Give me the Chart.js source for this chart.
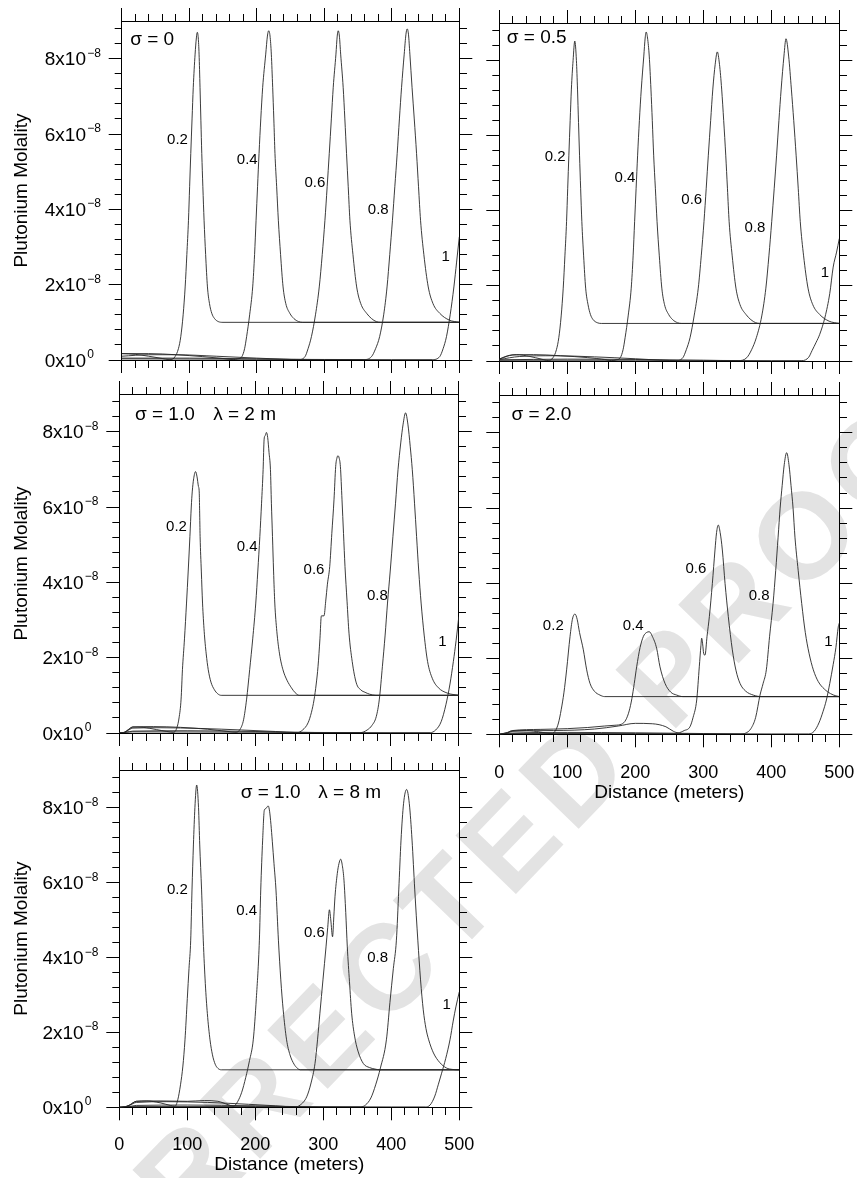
<!DOCTYPE html>
<html>
<head>
<meta charset="utf-8">
<script src="https://cdn.jsdelivr.net/npm/chart.js@4.4.1/dist/chart.umd.min.js"></script>
<style>
  html, body { margin: 0; padding: 0; background: #fff; }
  #page { position: relative; width: 857px; height: 1178px; overflow: hidden; background: #fff; }
  #stamp {
    position: absolute; left: 495px; top: 855px;
    transform: translate(-50%, -50%) rotate(-46deg);
    font: bold 122px "Liberation Sans", Arial, sans-serif;
    letter-spacing: 9px; color: #e3e3e3; white-space: nowrap;
  }
  canvas { position: absolute; }
</style>
</head>
<body>
<div id="page">
  <div id="stamp">CORRECTED PROOF</div>
</div>
<script>
// Plutonium molality profiles along the flow path, in units of 1e-8 mol/kg,
// given as [distance (m), molality] pairs for the times 0.2, 0.4, 0.6, 0.8 and 1.

// ---- sigma = 0 ----
const sigma0_t02 = [[0,0.17],[20,0.15],[40,0.1],[60,0.04],[70,0.01],[76,0.03],[79,0.09],[84,0.3],[87.5,0.62],[91,1.2],[94,1.94],[96.5,2.8],[98.9,3.71],[100.6,4.6],[102.3,5.48],[104.2,6.4],[106,7.24],[108.7,8.12],[110.6,8.55],[112,8.7],[113.4,8.55],[114.6,8.12],[116,7.24],[117.3,6.35],[118.6,5.48],[120.2,4.6],[122,3.71],[124.3,2.8],[127,1.94],[130,1.5],[133.4,1.24],[137.5,1.1],[143,1.02],[150,1.0],[500,1.0]];
const sigma0_t04 = [[0,0.17],[40,0.17],[80,0.14],[120,0.09],[150,0.04],[165,0.01],[172,0.03],[178,0.09],[182,0.3],[185,0.62],[189.5,1.2],[194,1.94],[196.8,2.8],[199,3.71],[201.2,4.6],[203.4,5.48],[206,6.4],[208.8,7.24],[213.3,8.12],[215.8,8.6],[217.7,8.74],[219.7,8.6],[221.6,8.12],[223.6,7.24],[225.3,6.4],[227,5.48],[229.5,4.6],[232,3.71],[235.3,2.8],[239,1.94],[243,1.5],[249,1.24],[255,1.1],[262,1.02],[268,1.0],[500,1.0]];
const sigma0_t06 = [[0,0.1],[40,0.14],[80,0.14],[140,0.1],[200,0.05],[240,0.02],[262,0.01],[271.5,0.09],[276,0.3],[281,0.62],[287,1.2],[292.6,1.94],[297,2.8],[301,3.71],[304.3,4.6],[307.4,5.48],[310.5,6.4],[313.3,7.24],[317.3,8.12],[319.2,8.6],[320.7,8.74],[322.4,8.6],[324.3,8.12],[328,7.24],[330.5,6.4],[333,5.48],[335.5,4.6],[338,3.71],[342.5,2.8],[348,1.94],[354,1.5],[362.7,1.24],[370,1.1],[377,1.02],[383,1.0],[500,1.0]];
const sigma0_t08 = [[0,0.05],[100,0.05],[200,0.03],[300,0.01],[358,0.01],[370,0.09],[376,0.3],[382,0.62],[388,1.2],[393,1.94],[397,2.8],[401,3.71],[404.5,4.6],[408,5.48],[411.3,6.4],[414.5,7.24],[418.4,8.12],[421,8.65],[422.8,8.79],[424.7,8.65],[426.8,8.12],[430,7.24],[433.3,6.4],[436.7,5.48],[439.6,4.6],[442.6,3.71],[447.5,2.8],[454,1.94],[461,1.5],[471,1.24],[485,1.06],[500,1.0]];
const sigma0_t10 = [[0,0.03],[200,0.02],[400,0.01],[460,0.01],[471,0.09],[476,0.3],[481,0.62],[486.5,1.2],[492,1.94],[496,2.6],[500,3.27]];

// ---- sigma = 0.5 ----
const sigma05_t02 = [[0,0.05],[12,0.14],[25,0.17],[45,0.12],[62,0.05],[72,0.01],[79,0.09],[84,0.3],[87.5,0.62],[91,1.2],[94,1.94],[96.5,2.8],[98.9,3.71],[100.6,4.6],[102.3,5.48],[104.2,6.4],[106,7.24],[108.5,8.0],[111,8.52],[113.4,8.0],[115,7.24],[116.5,6.35],[118,5.48],[119.6,4.6],[121.4,3.71],[124,2.8],[127,1.94],[130.5,1.5],[134,1.24],[138,1.1],[144,1.02],[150,1.0],[500,1.0]];
const sigma05_t04 = [[0,0.05],[20,0.16],[50,0.17],[90,0.14],[130,0.09],[155,0.04],[165,0.01],[172,0.03],[178,0.09],[182,0.3],[185,0.62],[189.5,1.2],[194,1.94],[196.8,2.8],[199,3.71],[201.2,4.6],[203.4,5.48],[206,6.4],[208.8,7.24],[212.5,8.12],[214.5,8.6],[216,8.76],[218,8.6],[220.5,8.12],[223,7.24],[225,6.4],[227,5.48],[229.5,4.6],[232,3.71],[235.3,2.8],[239,1.94],[243,1.5],[249,1.24],[255,1.1],[262,1.02],[268,1.0],[500,1.0]];
const sigma05_t06 = [[0,0.04],[30,0.12],[80,0.14],[140,0.11],[200,0.06],[240,0.02],[260,0.01],[270,0.09],[275,0.3],[280.5,0.62],[286.5,1.2],[292.6,1.94],[297,2.8],[301,3.71],[304.3,4.6],[307.4,5.48],[310.8,6.4],[314,7.24],[317.5,7.9],[320.6,8.23],[323.8,7.9],[327,7.24],[330,6.4],[333,5.48],[335.5,4.6],[338,3.71],[342.5,2.8],[348,1.94],[354,1.5],[362.7,1.24],[370,1.1],[377,1.02],[383,1.0],[500,1.0]];
const sigma05_t08 = [[0,0.03],[100,0.05],[200,0.04],[300,0.02],[352,0.01],[364,0.09],[371,0.3],[378,0.62],[386,1.2],[392,1.94],[396.5,2.8],[400.6,3.71],[404.3,4.6],[407.8,5.48],[411.2,6.4],[414.5,7.24],[418.6,8.12],[421.6,8.58],[425.5,8.12],[429.5,7.24],[433,6.4],[436.5,5.48],[439.6,4.6],[442.6,3.71],[447.5,2.8],[454,1.94],[461,1.5],[471,1.24],[485,1.06],[500,1.0]];
const sigma05_t10 = [[0,0.02],[200,0.02],[400,0.01],[445,0.01],[455,0.1],[460,0.28],[466,0.5],[471,0.7],[479,1.17],[486,1.8],[491,2.5],[496,2.9],[500,3.26]];

// ---- sigma = 1.0, lambda = 2 m ----
const sigma10a_t02 = [[0,0],[8,0.02],[14,0.1],[20,0.16],[35,0.15],[55,0.09],[70,0.04],[80,0.02],[84,0.1],[88,0.4],[91,0.9],[93,1.68],[96,2.5],[99,3.45],[101.5,4.3],[104,5.22],[106,6.0],[107.4,6.4],[109.5,6.75],[112.3,6.94],[114.5,6.8],[116.5,6.55],[117.7,6.4],[118.3,5.9],[119,5.22],[120.8,4.3],[122.6,3.45],[125,2.7],[128,2.1],[131,1.68],[135,1.35],[140,1.15],[145,1.04],[150,1.0],[500,1.0]];
const sigma10a_t04 = [[0,0],[8,0.02],[14,0.1],[20,0.16],[50,0.17],[90,0.15],[130,0.1],[160,0.04],[172,0.02],[178,0.1],[183,0.35],[187.5,0.9],[192,1.68],[196.5,2.5],[201,3.45],[204,4.3],[207,5.22],[209.5,6.1],[211.8,6.99],[213.3,7.8],[215,7.9],[216.7,7.98],[218.5,7.85],[220.5,7.45],[222.6,6.99],[224,6.1],[225.6,5.22],[227.2,4.3],[229,3.45],[232,2.7],[236,2.1],[241,1.68],[247,1.4],[253.5,1.2],[259,1.07],[265,1.0],[500,1.0]];
const sigma10a_t06 = [[0,0],[8,0.02],[14,0.08],[20,0.13],[60,0.14],[120,0.12],[180,0.08],[230,0.04],[262,0.01],[270,0.08],[278,0.27],[283,0.55],[286.8,0.88],[290,1.3],[292.7,1.77],[295.5,2.5],[297.6,3.11],[301.5,3.11],[304,3.5],[306.5,3.95],[309.9,4.42],[313,5.3],[316.2,6.19],[318.7,7.08],[320.5,7.3],[322,7.36],[323.8,7.3],[325.6,7.08],[328,6.19],[330.2,5.3],[332.4,4.42],[335.4,3.5],[338.3,2.65],[343,1.9],[349,1.33],[356,1.14],[362,1.08],[368.7,1.03],[378,1.0],[500,1.0]];
const sigma10a_t08 = [[0,0],[10,0.02],[20,0.05],[100,0.06],[200,0.04],[300,0.01],[355,0.01],[365,0.08],[372,0.2],[378.5,0.44],[383,0.9],[387.5,1.77],[391.5,2.6],[395,3.45],[399,4.3],[403,5.22],[406.8,6.1],[410.5,6.99],[414.5,7.7],[418,8.2],[421.6,8.5],[425,8.2],[428.5,7.6],[431.5,6.99],[434.8,6.1],[437.8,5.22],[441,4.3],[444.5,3.45],[449,2.6],[454,1.9],[461,1.45],[470,1.2],[483,1.06],[500,1.0]];
const sigma10a_t10 = [[0,0],[20,0.03],[200,0.02],[400,0.01],[458,0.01],[466,0.08],[474,0.3],[481,0.75],[487,1.3],[492,1.9],[496,2.45],[500,3.09]];

// ---- sigma = 2.0 ----
const sigma20_t02 = [[0,0],[10,0.02],[18,0.09],[40,0.1],[60,0.06],[75,0.02],[82,0.08],[87,0.3],[91,0.65],[95,1.1],[99,1.71],[104,2.59],[107.5,3.05],[111.3,3.19],[114.5,3.05],[118,2.7],[123.6,2.24],[128.5,1.71],[133.4,1.35],[140,1.14],[148,1.04],[155,1.0],[500,1.0]];
const sigma20_t04 = [[0,0],[12,0.05],[20,0.1],[60,0.13],[100,0.15],[130,0.18],[155,0.22],[170,0.24],[180,0.27],[186,0.38],[191,0.62],[195,0.95],[198.5,1.35],[202,1.79],[207,2.3],[212,2.6],[216.5,2.7],[220.6,2.72],[225,2.6],[231.4,2.28],[236.3,1.79],[243.7,1.35],[252,1.12],[260.9,1.04],[270,1.0],[500,1.0]];
const sigma20_t06 = [[0,0],[12,0.04],[20,0.08],[80,0.1],[140,0.14],[175,0.22],[200,0.29],[225,0.28],[245,0.2],[256,0.08],[263,0.04],[272,0.1],[280.4,0.2],[285,0.45],[290.3,0.91],[294.1,1.79],[296.5,2.35],[297.6,2.55],[299,2.4],[300.5,2.15],[302.5,2.1],[305.5,2.6],[308.9,3.12],[313.3,4.0],[317.2,4.89],[319.5,5.35],[322,5.55],[324.8,5.35],[328,4.89],[332,4.0],[336.8,3.12],[342.7,2.24],[348,1.7],[354,1.35],[362,1.15],[373.5,1.04],[385,1.0],[500,1.0]];
const sigma20_t08 = [[0,0],[15,0.03],[100,0.05],[200,0.04],[300,0.02],[355,0.01],[362,0.03],[370,0.15],[377,0.45],[383.4,1.04],[388,1.35],[392.7,1.71],[397.5,2.6],[402.6,3.47],[406.5,4.35],[410,5.23],[413,6.0],[416,6.6],[419,7.15],[422.6,7.47],[426,7.15],[429,6.6],[432,6.0],[434.8,5.23],[439.5,4.35],[444.7,3.47],[450,2.7],[455.5,2.15],[461.8,1.71],[469,1.4],[478,1.2],[487,1.08],[495,1.02],[500,1.0]];
const sigma20_t10 = [[0,0],[20,0.02],[200,0.02],[400,0.01],[455,0.01],[463,0.08],[470,0.3],[476,0.6],[481,0.91],[486,1.35],[491,1.85],[495,2.3],[498.5,2.85],[500,2.95]];

// ---- sigma = 1.0, lambda = 8 m ----
const sigma10b_t02 = [[0,0],[8,0.01],[15,0.06],[25,0.16],[40,0.17],[60,0.12],[75,0.05],[82,0.03],[86,0.2],[90,0.6],[93.5,1.1],[96.6,1.8],[100,2.9],[102.5,3.7],[105,4.46],[106.9,5.8],[109,7.0],[111.2,8.0],[113.8,8.6],[116.5,8.0],[118.3,7.0],[121,5.8],[123.5,4.46],[126.5,3.3],[129.5,2.5],[133.4,1.8],[137,1.4],[141,1.15],[145,1.04],[150,1.0],[500,1.0]];
const sigma10b_t04 = [[0,0],[8,0.01],[15,0.06],[25,0.16],[60,0.17],[100,0.16],[125,0.18],[145,0.16],[160,0.07],[168,0.03],[174,0.15],[180,0.4],[186,0.8],[191.5,1.25],[197,1.8],[201.5,2.9],[206,4.46],[208,5.8],[210.8,7.13],[213.3,7.93],[215.5,7.97],[217.5,8.02],[219,8.04],[221,7.9],[223,7.55],[225,7.1],[227.5,6.5],[230.4,5.8],[234,4.46],[237.5,3.4],[241,2.6],[246,1.8],[251,1.4],[257,1.15],[262,1.04],[266,1.0],[500,1.0]];
const sigma10b_t06 = [[0,0],[8,0.01],[15,0.05],[25,0.13],[70,0.15],[130,0.13],[190,0.08],[230,0.04],[258,0.01],[266,0.06],[275.6,0.28],[282,0.65],[287.8,1.17],[291.5,1.8],[295,2.51],[299.5,3.4],[304,4.28],[306.5,4.8],[309,5.27],[311,5.0],[313.6,4.55],[315.5,5.1],[317.2,5.62],[320.6,6.24],[323,6.5],[325.5,6.62],[328,6.45],[330.4,6.06],[333,5.2],[335.3,4.28],[338.5,3.35],[341.7,2.51],[346,1.9],[351,1.5],[358.8,1.17],[368,1.06],[376,1.02],[383,1.0],[500,1.0]];
const sigma10b_t08 = [[0,0],[15,0.02],[25,0.05],[100,0.06],[200,0.04],[300,0.01],[355,0.01],[362,0.06],[370,0.25],[377,0.6],[384,1.05],[392.8,1.8],[398,2.8],[403,3.7],[407.5,4.46],[411,5.8],[414.3,7.13],[418,8.1],[422.6,8.48],[426.5,8.1],[430.5,7.13],[434.5,5.8],[439,4.46],[443,3.4],[447,2.6],[451,2.1],[455,1.8],[462,1.45],[471,1.2],[481,1.05],[490,1.01],[500,1.0]];
const sigma10b_t10 = [[0,0],[20,0.02],[200,0.02],[400,0.01],[450,0.01],[457,0.06],[464,0.3],[469,0.6],[474,0.91],[480,1.3],[486.3,1.8],[491,2.3],[495,2.68],[500,3.08]];

// Curve tags (time) and where each tag sits, in data coordinates
const timeTags = ['0.2', '0.4', '0.6', '0.8', '1'];
const sigma0_tags   = [[82.6,5.85],[186,5.32],[286,4.70],[380,3.99],[480,2.75]];
const sigma05_tags  = [[82,5.43],[184.9,4.87],[283,4.28],[376,3.55],[479,2.34]];
const sigma10a_tags = [[84.3,5.48],[188.2,4.95],[286.8,4.34],[380,3.65],[476,2.42]];
const sigma20_tags  = [[79.4,2.87],[197,2.87],[289,4.38],[382,3.67],[484,2.46]];
const sigma10b_tags = [[85.3,5.80],[187.3,5.25],[286.8,4.66],[380,3.98],[481.5,2.73]];

// Axis ticks
const distanceTicks = [0,20,40,60,80,100,120,140,160,180,200,220,240,260,280,300,320,340,360,380,400,420,440,460,480,500];
const distanceMajor = [0,100,200,300,400,500];
const distanceLabels = ['0','100','200','300','400','500'];
const molalityTicks = [0,0.4,0.8,1.2,1.6,2,2.4,2.8,3.2,3.6,4,4.4,4.8,5.2,5.6,6,6.4,6.8,7.2,7.6,8,8.4,8.8];
const molalityMajor = [0,2,4,6,8];
const molalityMantissa = ['0','2','4','6','8'];
const molalityExponent = ['0','\u22128','\u22128','\u22128','\u22128'];

const FONT = '"Liberation Sans", Arial, Helvetica, sans-serif';
Chart.defaults.font.family = FONT;
Chart.defaults.color = '#000';

const isMajorDistance = v => distanceMajor.some(m => Math.abs(m - v) < 1e-6);
const isMajorMolality = v => molalityMajor.some(m => Math.abs(m - v) < 1e-6);

// Panel frames (pixel boxes of each plotting area)
const panels = [
  { curves: [sigma0_t02, sigma0_t04, sigma0_t06, sigma0_t08, sigma0_t10], tags: sigma0_tags,
    captions: [['\u03c3 = 0', 12.6, 8.5]],
    col: 0, area: { left: 121.7, top: 21, right: 459.3, bottom: 360 }, yLabels: true, xLabels: false },
  { curves: [sigma05_t02, sigma05_t04, sigma05_t06, sigma05_t08, sigma05_t10], tags: sigma05_tags,
    captions: [['\u03c3 = 0.5', 11, 8.61]],
    col: 1, area: { left: 499.3, top: 22.7, right: 839.3, bottom: 360.7 }, yLabels: false, xLabels: false },
  { curves: [sigma10a_t02, sigma10a_t04, sigma10a_t06, sigma10a_t08, sigma10a_t10], tags: sigma10a_tags,
    captions: [['\u03c3 = 1.0', 23.1, 8.45], ['\u03bb = 2 m', 138.2, 8.45]],
    col: 0, area: { left: 119.3, top: 394.3, right: 458.8, bottom: 733.3 }, yLabels: true, xLabels: false },
  { curves: [sigma20_t02, sigma20_t04, sigma20_t06, sigma20_t08, sigma20_t10], tags: sigma20_tags,
    captions: [['\u03c3 = 2.0', 18, 8.47]],
    col: 1, area: { left: 499.3, top: 395, right: 839.3, bottom: 734.3 }, yLabels: false, xLabels: true,
    canvasBottom: 814.3, tickPad: 15, titlePad: 9.6 },
  { curves: [sigma10b_t02, sigma10b_t04, sigma10b_t06, sigma10b_t08, sigma10b_t10], tags: sigma10b_tags,
    captions: [['\u03c3 = 1.0', 178.5, 8.39], ['\u03bb = 8 m', 292.6, 8.39]],
    col: 0, area: { left: 119.3, top: 770, right: 459.3, bottom: 1107.3 }, yLabels: true, xLabels: true,
    canvasBottom: 1178, tickPad: 14, titlePad: 1.6 }
];

// Draws the "Nx10^e" molality labels, the time tags and the panel captions
const annotate = {
  id: 'annotate',
  afterDatasetsDraw(chart, args, opts) {
    const { ctx, chartArea } = chart;
    const x = chart.scales.x, y = chart.scales.y;
    ctx.save();
    ctx.fillStyle = '#000';
    ctx.textBaseline = 'middle';
    ctx.font = '15px ' + FONT;
    ctx.textAlign = 'center';
    opts.tags.forEach(([vx, vy], i) => {
      ctx.fillText(timeTags[i], x.getPixelForValue(vx), y.getPixelForValue(vy));
    });
    ctx.font = '19px ' + FONT;
    ctx.textAlign = 'left';
    opts.captions.forEach(([text, vx, vy]) => {
      ctx.fillText(text, x.getPixelForValue(vx), y.getPixelForValue(vy));
    });
    if (opts.yLabels) {
      molalityMajor.forEach((v, i) => {
        const py = y.getPixelForValue(v);
        const xr = chartArea.left - 35.7;
        ctx.font = '19px ' + FONT;
        ctx.textAlign = 'right';
        ctx.fillText(molalityMantissa[i] + 'x10', xr, py + 1.5);
        ctx.font = '12px ' + FONT;
        ctx.textAlign = 'left';
        ctx.fillText(molalityExponent[i], xr + 1.2, py - 5.2);
      });
    }
    ctx.restore();
  }
};

function tickGrid(isMajor, fromOutside) {
  return {
    display: true,
    drawOnChartArea: false,
    drawTicks: true,
    tickLength: 13,
    tickColor: '#000',
    tickWidth: 1,
    tickBorderDash: c => (c.tick && isMajor(c.tick.value)) ? [] : [7, 100],
    tickBorderDashOffset: fromOutside ? -6 : 0
  };
}
const frameBorder = { display: true, color: '#000', width: 1 };

const page = document.getElementById('page');

panels.forEach(p => {
  const colLeft = p.col === 0 ? 0 : 440;
  const W = p.col === 0 ? 495 : 435;
  const top = Math.max(0, p.area.top - 22);
  const bottom = p.canvasBottom || (p.area.bottom + 20);
  const H = Math.round(bottom - top);
  const Lw = p.area.left - colLeft;
  const Rw = colLeft + W - p.area.right;
  const Th = p.area.top - top;
  const Bh = top + H - p.area.bottom;

  const canvas = document.createElement('canvas');
  canvas.width = W; canvas.height = H;
  canvas.style.left = colLeft + 'px';
  canvas.style.top = top + 'px';
  canvas.style.width = W + 'px';
  canvas.style.height = H + 'px';
  page.appendChild(canvas);

  const datasets = p.curves.map((pts, i) => ({
    label: timeTags[i],
    data: pts.map(([d, m]) => ({ x: d, y: m })),
    borderColor: '#262626',
    borderWidth: 0.9,
    pointRadius: 0,
    fill: false,
    cubicInterpolationMode: 'monotone'
  }));

  const distanceTicksBuilder = s => { s.ticks = distanceTicks.map(v => ({ value: v })); };
  const molalityTicksBuilder = s => { s.ticks = molalityTicks.map(v => ({ value: v })); };

  new Chart(canvas, {
    type: 'line',
    data: { datasets },
    options: {
      responsive: false,
      animation: false,
      devicePixelRatio: 1,
      layout: { padding: 0 },
      plugins: {
        legend: { display: false },
        tooltip: { enabled: false },
        annotate: { tags: p.tags, captions: p.captions, yLabels: p.yLabels }
      },
      scales: {
        x: {
          type: 'linear', position: 'bottom', min: 0, max: 500,
          afterBuildTicks: distanceTicksBuilder,
          afterFit: s => { s.height = Bh; },
          grid: tickGrid(isMajorDistance, false),
          border: frameBorder,
          ticks: {
            display: p.xLabels, autoSkip: false, maxRotation: 0, padding: p.tickPad || 0,
            font: { size: 18, lineHeight: 1.2 }, color: '#000',
            callback: v => { const k = distanceMajor.indexOf(v); return k >= 0 ? distanceLabels[k] : ''; }
          },
          title: {
            display: p.xLabels, text: 'Distance (meters)', color: '#000',
            font: { size: 19, lineHeight: 1.2 }, padding: { top: 0, bottom: p.titlePad || 0 }
          }
        },
        x2: {
          type: 'linear', position: 'top', min: 0, max: 500,
          afterBuildTicks: distanceTicksBuilder,
          afterFit: s => { s.height = Th; },
          grid: tickGrid(isMajorDistance, true),
          border: frameBorder,
          ticks: { display: false }
        },
        y: {
          type: 'linear', position: 'left', min: 0, max: 9,
          afterBuildTicks: molalityTicksBuilder,
          afterFit: s => { s.width = Lw; },
          grid: tickGrid(isMajorMolality, true),
          border: frameBorder,
          ticks: { display: false },
          title: {
            display: p.yLabels, text: 'Plutonium Molality', color: '#000',
            font: { size: 19, lineHeight: 1.2 }, padding: { top: 10, bottom: 0 }
          }
        },
        y2: {
          type: 'linear', position: 'right', min: 0, max: 9,
          afterBuildTicks: molalityTicksBuilder,
          afterFit: s => { s.width = Rw; },
          grid: tickGrid(isMajorMolality, false),
          border: frameBorder,
          ticks: { display: false }
        }
      }
    },
    plugins: [annotate]
  });
});
</script>
</body>
</html>
